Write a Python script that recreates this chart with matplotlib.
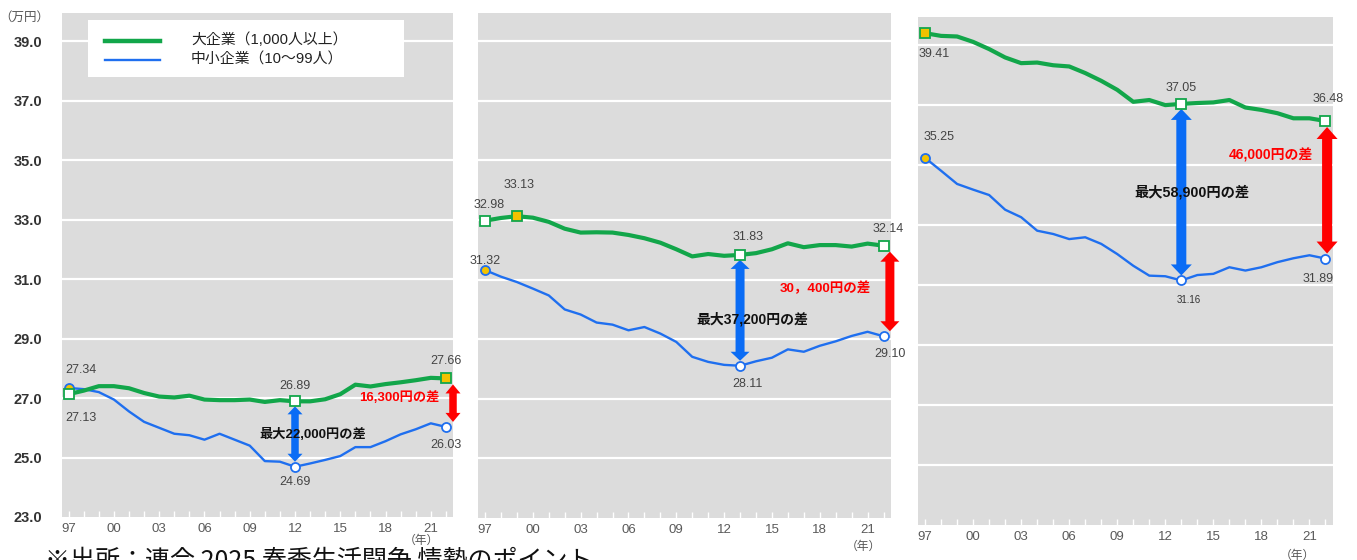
import matplotlib
matplotlib.use("Agg")
import matplotlib.pyplot as plt
from matplotlib.patches import Polygon, Rectangle
from matplotlib.lines import Line2D

plt.rcParams['font.family'] = ['Liberation Sans', 'Noto Sans CJK JP', 'DejaVu Sans']

# ---------------- data ----------------
years = list(range(1997, 2023))
tick_years = [1997, 2000, 2003, 2006, 2009, 2012, 2015, 2018, 2021]
tick_labels = ['97', '00', '03', '06', '09', '12', '15', '18', '21']
y_ticks = [23.0, 25.0, 27.0, 29.0, 31.0, 33.0, 35.0, 37.0, 39.0]

series_names = ['大企業（1,000人以上）', '中小企業（10～99人）']

large_a = [27.13, 27.25, 27.40, 27.40, 27.33, 27.17, 27.05, 27.02, 27.08, 26.95, 26.93, 26.93, 26.95,
           26.87, 26.93, 26.89, 26.89, 26.96, 27.13, 27.45, 27.39, 27.47, 27.53, 27.60, 27.68, 27.66]
small_a = [27.34, 27.30, 27.20, 26.95, 26.55, 26.20, 26.00, 25.80, 25.75, 25.60, 25.80, 25.60, 25.40,
           24.88, 24.86, 24.69, 24.80, 24.92, 25.05, 25.35, 25.35, 25.55, 25.78, 25.95, 26.15, 26.03]

large_b = [32.98, 33.07, 33.13, 33.08, 32.94, 32.71, 32.58, 32.59, 32.58, 32.50, 32.39, 32.24, 32.02,
           31.78, 31.86, 31.80, 31.83, 31.89, 32.02, 32.22, 32.09, 32.16, 32.16, 32.11, 32.21, 32.14]
small_b = [31.32, 31.10, 30.92, 30.70, 30.47, 30.00, 29.83, 29.56, 29.49, 29.30, 29.41, 29.19, 28.91,
           28.41, 28.24, 28.14, 28.11, 28.26, 28.38, 28.66, 28.58, 28.78, 28.93, 29.11, 29.25, 29.10]

large_c = [39.41, 39.32, 39.30, 39.12, 38.88, 38.60, 38.41, 38.43, 38.34, 38.30, 38.08, 37.82, 37.52,
           37.12, 37.18, 37.01, 37.05, 37.08, 37.10, 37.18, 36.93, 36.85, 36.74, 36.57, 36.57, 36.48]
small_c = [35.25, 34.82, 34.38, 34.19, 34.01, 33.52, 33.27, 32.82, 32.71, 32.54, 32.60, 32.38, 32.04,
           31.65, 31.32, 31.30, 31.16, 31.34, 31.38, 31.60, 31.49, 31.60, 31.77, 31.90, 32.00, 31.89]

max_gap_year = [2012, 2013, 2013]
max_gap_text = ['最大22,000円の差', '最大37,200円の差', '最大58,900円の差']
last_gap_text = ['16,300円の差', '30，400円の差', '46,000円の差']

# ---------------- style ----------------
W, H = 1357, 560
GREEN = '#12A64A'
BLUE = '#1F6FEF'
ARROW_BLUE = '#0A6CF5'
RED = '#FF0000'
GOLD = '#F2C200'
BG = '#DCDCDC'


def fx(px):
    return px / W


def fy(py):
    return 1 - py / H


fig = plt.figure(figsize=(W / 100, H / 100), dpi=100)
fig.patch.set_facecolor('white')

rects = [(62, 453, 13, 517), (478, 891, 13, 518), (918, 1333, 17, 525)]
axes = []
for (l, r, t, b) in rects:
    ax = fig.add_axes([fx(l), fy(b), (r - l) / W, (b - t) / H])
    axes.append(ax)


def fat_arrow(ax, x, y_top, y_bot, color, shaft, head_w, head_l, pad_t, pad_b):
    X, T = ax.transData.transform((x, y_top))
    _, B = ax.transData.transform((x, y_bot))
    T -= pad_t
    B += pad_b
    sw, hw = shaft / 2, head_w / 2
    pts = [(X, T), (X + hw, T - head_l), (X + sw, T - head_l), (X + sw, B + head_l),
           (X + hw, B + head_l), (X, B), (X - hw, B + head_l), (X - sw, B + head_l),
           (X - sw, T - head_l), (X - hw, T - head_l)]
    inv = ax.transData.inverted()
    data_pts = inv.transform(pts)
    ax.add_patch(Polygon(data_pts, closed=True, facecolor=color, edgecolor='none',
                         zorder=6, clip_on=False))


def label(ax, x, y, text, dx, dy, size=9, color='#444', weight='normal', ha='center'):
    ax.annotate(text, xy=(x, y), xytext=(dx * 0.72, -dy * 0.72), textcoords='offset points',
                ha=ha, va='center', fontsize=size, color=color, fontweight=weight,
                zorder=8, annotation_clip=False)


panels = [(large_a, small_a), (large_b, small_b), (large_c, small_c)]

for i, ax in enumerate(axes):
    large, small = panels[i]
    ax.set_facecolor(BG)
    for s in ax.spines.values():
        s.set_visible(False)
    ax.set_xlim(1996.56, 2022.47)
    ax.set_ylim(23.0, 39.95)
    for g in y_ticks[1:]:
        ax.axhline(g, color='white', lw=1.6, zorder=1)
    ax.set_xticks(tick_years)
    ax.set_xticklabels(tick_labels)
    ax.set_xticks(years, minor=True)
    ax.tick_params(axis='x', which='both', direction='in', color='white', length=4, width=1,
                   pad=4, labelsize=9.5, labelcolor='#5a5a5a')
    ax.set_yticks(y_ticks)
    if i == 0:
        ax.set_yticklabels([f'{v:.1f}' for v in y_ticks])
        ax.tick_params(axis='y', length=0, pad=14, labelsize=10.5, labelcolor='#333')
        for t in ax.get_yticklabels():
            t.set_fontweight('bold')
    else:
        ax.set_yticklabels([])
        ax.tick_params(axis='y', length=0)

    ax.plot(years, small, color=BLUE, lw=1.7, zorder=3, solid_joinstyle='round')
    ax.plot(years, large, color=GREEN, lw=3.0, zorder=4, solid_joinstyle='round')

    def sq(yr, val, fill):
        ax.plot([yr], [val], marker='s', ms=6.5, mfc=fill, mec=GREEN, mew=1.3, zorder=7,
                clip_on=False)

    def ci(yr, val, fill):
        ax.plot([yr], [val], marker='o', ms=6.5, mfc=fill, mec=BLUE, mew=1.3, zorder=7,
                clip_on=False)

    gy = max_gap_year[i]
    gi = years.index(gy)
    shaft, hw, hl = [(7.5, 15, 8), (9, 19, 9), (10, 21, 11)][i]
    fat_arrow(ax, gy, large[gi], small[gi], ARROW_BLUE, shaft, hw, hl, 5, 5)
    rx = [0.47, 0.4, 0.1][i]
    fat_arrow(ax, years[-1] + rx, large[-1], small[-1], RED, shaft, hw, hl + 1, 6, 5)

    if i == 0:
        ci(1997, small[0], GOLD)
        sq(1997, large[0], 'white')
        sq(gy, large[gi], 'white')
        ci(gy, small[gi], 'white')
        sq(2022, large[-1], GOLD)
        ci(2022, small[-1], 'white')
        label(ax, 1997, small[0], f'{small[0]:.2f}', 12, -18)
        label(ax, 1997, large[0], f'{large[0]:.2f}', 12, 24)
        label(ax, gy, large[gi], f'{large[gi]:.2f}', 0, -15)
        label(ax, gy, small[gi], f'{small[gi]:.2f}', 0, 15)
        label(ax, 2022, large[-1], f'{large[-1]:.2f}', 0, -17)
        label(ax, 2022, small[-1], f'{small[-1]:.2f}', 0, 18)
        label(ax, gy, (large[gi] + small[gi]) / 2, max_gap_text[i], -36, 0,
              size=9.5, color='#111', weight='bold', ha='left')
        label(ax, years[-1] + rx, (large[-1] + small[-1]) / 2, last_gap_text[i], -14, -5,
              size=9.5, color=RED, weight='bold', ha='right')
    elif i == 1:
        sq(1997, large[0], 'white')
        sq(1999, large[2], GOLD)
        ci(1997, small[0], GOLD)
        sq(gy, large[gi], 'white')
        ci(gy, small[gi], 'white')
        sq(2022, large[-1], 'white')
        ci(2022, small[-1], 'white')
        label(ax, 1997, large[0], f'{large[0]:.2f}', 4, -16)
        label(ax, 1999, large[2], f'{large[2]:.2f}', 2, -31)
        label(ax, 1997, small[0], f'{small[0]:.2f}', 0, -9)
        label(ax, gy, large[gi], f'{large[gi]:.2f}', 8, -18)
        label(ax, gy, small[gi], f'{small[gi]:.2f}', 7, 18)
        label(ax, 2022, large[-1], f'{large[-1]:.2f}', 5, -17)
        label(ax, 2022, small[-1], f'{small[-1]:.2f}', 6, 18)
        label(ax, gy, (large[gi] + small[gi]) / 2, max_gap_text[i], -44, 9,
              size=10, color='#111', weight='bold', ha='left')
        label(ax, years[-1] + rx, (large[-1] + small[-1]) / 2, last_gap_text[i], -19, -3,
              size=9.7, color=RED, weight='bold', ha='right')
    else:
        sq(1997, large[0], GOLD)
        ci(1997, small[0], GOLD)
        sq(gy, large[gi], 'white')
        ci(gy, small[gi], 'white')
        sq(2022, large[-1], 'white')
        ci(2022, small[-1], 'white')
        label(ax, 1997, large[0], f'{large[0]:.2f}', 9, 21)
        label(ax, 1997, small[0], f'{small[0]:.2f}', 14, -21)
        label(ax, gy, large[gi], f'{large[gi]:.2f}', 0, -16)
        label(ax, gy, small[gi], f'{small[gi]:.2f}', 7, 20, size=7, color='#333')
        label(ax, 2022, large[-1], f'{large[-1]:.2f}', 3, -22)
        label(ax, 2022, small[-1], f'{small[-1]:.2f}', -7, 20)
        label(ax, gy, (large[gi] + small[gi]) / 2, max_gap_text[i], -47, 0,
              size=10.3, color='#111', weight='bold', ha='left')
        label(ax, years[-1] + rx, (large[-1] + small[-1]) / 2, last_gap_text[i], -14, -34,
              size=10, color=RED, weight='bold', ha='right')

# unit label
fig.text(fx(24), fy(18), '（万円）', fontsize=9, color='#555', ha='center', va='center')

# year labels
for (xp, yp) in [(421, 541), (863, 547), (1297, 556)]:
    fig.text(fx(xp), fy(yp), '（年）', fontsize=8.5, color='#555', ha='center', va='center')

# legend
fig.add_artist(Rectangle((fx(88), fy(77)), (404 - 88) / W, (77 - 20) / H,
                         transform=fig.transFigure, facecolor='white', edgecolor='none', zorder=2))
fig.add_artist(Line2D([fx(105), fx(160)], [fy(41), fy(41)], transform=fig.transFigure,
                      color=GREEN, lw=3.2, zorder=3))
fig.add_artist(Line2D([fx(105), fx(160)], [fy(60), fy(60)], transform=fig.transFigure,
                      color=BLUE, lw=1.7, zorder=3))
fig.text(fx(191), fy(40), series_names[0], fontsize=10.7, color='#222', ha='left', va='center',
         zorder=4)
fig.text(fx(191), fy(60), series_names[1], fontsize=10.7, color='#222', ha='left', va='center',
         zorder=4)

# source (cut off at the bottom edge, as in the original)
fig.text(fx(45), fy(561), '※出所：連合 2025 春季生活闘争 情勢のポイント', fontsize=18,
         color='#111', ha='left', va='center', family=['Noto Sans CJK JP', 'DejaVu Sans'])

fig.savefig('out.png', dpi=100)
